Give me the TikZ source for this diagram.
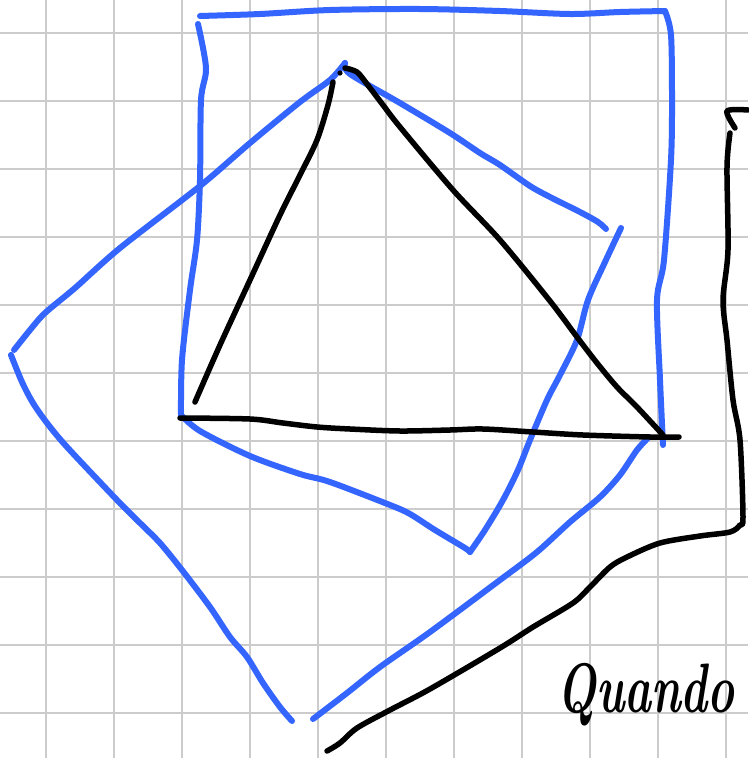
\documentclass[tikz,border=0pt]{standalone}
\usepackage{fontspec}
\begin{document}
\begin{tikzpicture}[x=1pt,y=-1pt,
  gridline/.style={draw=gridgray,line width=2pt},
  bluestroke/.style={draw=penblue,line width=6pt,line cap=round,line join=round},
  blackstroke/.style={draw=black,line width=5.5pt,line cap=round,line join=round},
  script/.style={font=\fontsize{70}{70}\selectfont\bfseries\itshape,inner sep=0pt,xscale=0.65}]
\definecolor{gridgray}{RGB}{204,204,204}
\definecolor{penblue}{RGB}{52,101,255}
\useasboundingbox (0,0) rectangle (748,758);
\fill[white] (0,0) rectangle (748,758);
% grid
\foreach \k in {0,...,10}{
  \draw[gridline] ({46+68*\k},0) -- ({46+68*\k},758);
  \draw[gridline] (0,{33+68*\k}) -- (748,{33+68*\k});
}
% blue upright square
\draw[bluestroke] plot[smooth,tension=0.5] coordinates {(198,24) (206,68) (201,100) (200,180) (197,240) (190,290) (182,360) (181,415)};
\draw[bluestroke] plot[smooth,tension=0.5] coordinates {(200,16) (260,14) (330,10) (420,9) (500,11) (570,14) (620,12) (665,11)};
\draw[bluestroke] plot[smooth,tension=0.5] coordinates {(665,11) (671,35) (672,100) (671,160) (664,260) (657,300) (660,380) (663,445)};
% blue tilted square
\draw[bluestroke] plot[smooth,tension=0.5] coordinates {(181,415) (200,431) (250,456) (300,474) (330,482) (390,505) (410,514) (435,530) (465,548) (470,552)};
\draw[bluestroke] plot[smooth,tension=0.5] coordinates {(470,552) (485,530) (503,500) (518,470) (530,440) (547,400) (560,375) (577,340) (588,300) (605,262) (621,228)};
\draw[bluestroke] plot[smooth,tension=0.5] coordinates {(606,229) (598,222) (580,212) (550,197) (530,186) (500,165) (480,153) (450,133) (400,103) (350,74) (345,63)};
\draw[bluestroke] plot[smooth,tension=0.5] coordinates {(345,63) (330,80) (300,102) (250,143) (200,186) (120,248) (75,288) (45,313) (30,330) (14,350)};
\draw[bluestroke] plot[smooth,tension=0.5] coordinates {(11,355) (22,382) (33,403) (47,423) (67,447) (117,500) (140,523) (160,543) (182,570) (210,607) (230,637) (247,657) (263,683) (280,707) (292,721)};
\draw[bluestroke] plot[smooth,tension=0.5] coordinates {(313,719) (347,693) (380,667) (430,632) (500,580) (537,552) (570,522) (600,497) (620,475) (637,450) (649,437)};
% black triangle
\draw[blackstroke] plot[smooth,tension=0.5] coordinates {(195,402) (220,345) (250,280) (280,215) (300,175) (317,140) (328,105) (333,82)};
\fill[black] (340,73) circle (2.6pt);
\draw[blackstroke] plot[smooth,tension=0.5] coordinates {(345,68) (357,72) (367,84) (383,105) (400,127) (453,190) (500,240) (550,301) (577,337) (597,363) (617,387) (637,407) (663,435)};
\draw[blackstroke] plot[smooth,tension=0.5] coordinates {(180,418) (250,419) (283,423) (317,427) (350,429) (400,431) (450,430) (483,429) (533,432) (583,435) (650,437) (679,437)};
% black right path
\draw[blackstroke] plot[smooth,tension=0.5] coordinates {(748,110) (727,111) (735,128)};
\draw[blackstroke] plot[smooth,tension=0.5] coordinates {(730,133) (727,167) (728,250) (723,300) (727,340) (733,400) (740,440) (743,517) (740,525) (730,532) (700,536) (660,543) (627,557) (610,567) (590,587) (573,603) (533,627) (500,648) (430,689) (390,710) (357,728) (340,743) (327,751)};
% text
\node[script,anchor=base west] (quando) at (557,712) {Quando};
\end{tikzpicture}
\end{document}
